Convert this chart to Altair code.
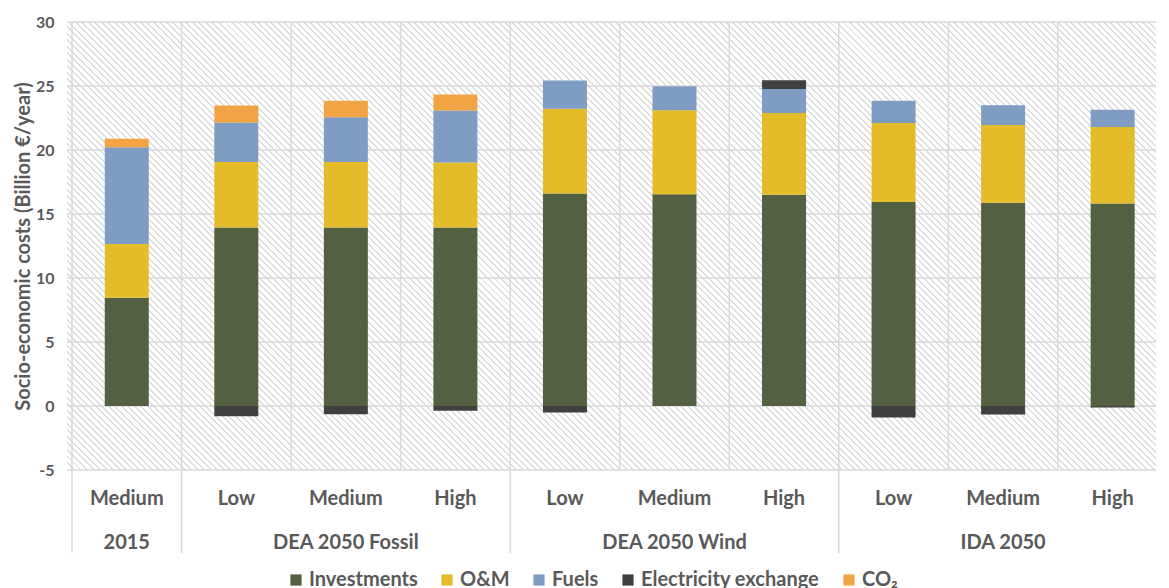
import altair as alt
import pandas as pd

# ---- data ----
categories = ["Medium", "Low", "Medium", "High", "Low", "Medium", "High", "Low", "Medium", "High"]
groups = ["2015", "DEA 2050 Fossil", "DEA 2050 Fossil", "DEA 2050 Fossil",
          "DEA 2050 Wind", "DEA 2050 Wind", "DEA 2050 Wind",
          "IDA 2050", "IDA 2050", "IDA 2050"]
series = ["Investments", "O&M", "Fuels", "Electricity exchange", "CO₂"]
colors = ["#536142", "#e4bb29", "#7f9dc2", "#404040", "#f2a444"]
y_ticks = [-5, 0, 5, 10, 15, 20, 25, 30]

investments = [8.46, 13.94, 13.94, 13.94, 16.60, 16.55, 16.50, 15.93, 15.87, 15.82]
om = [4.20, 5.12, 5.12, 5.09, 6.63, 6.55, 6.40, 6.18, 6.09, 5.98]
fuels = [7.55, 3.08, 3.50, 4.05, 2.20, 1.88, 1.87, 1.73, 1.53, 1.35]
elec_exchange = [0.0, -0.80, -0.65, -0.37, -0.50, 0.0, 0.68, -0.90, -0.67, -0.12]
co2 = [0.66, 1.33, 1.28, 1.25, 0.0, 0.0, 0.0, 0.0, 0.0, 0.0]

values = {"Investments": investments, "O&M": om, "Fuels": fuels,
          "Electricity exchange": elec_exchange, "CO₂": co2}

rows = []
for i in range(len(categories)):
    for k, s in enumerate(series):
        v = values[s][i]
        if v != 0:
            rows.append({"pos": i + 0.5, "series": s, "order": k, "value": v})
bars_df = pd.DataFrame(rows)

cat_df = pd.DataFrame({
    "pos": [i + 0.5 for i in range(len(categories))],
    "left": list(range(len(categories))),
    "label": categories,
    "group": groups,
})
tick_df = pd.DataFrame({"value": y_ticks})

W, H = 1089, 448
GRID = "#d9d9d9"
TXT = "#595959"
FONT = "Lato"

# ---- diagonal hatch for the plot background (a linear gradient with hard stops) ----
r = H / W
k = (1 + r) / (1 + r * r)
span_px = (W + H) / 2 ** 0.5          # pixel length covered by gradient t in [0, 1]
period = 4.6 / span_px
line_w = 1.4 / span_px
stops = []
t = 0.0
while t + line_w < 1:
    stops += [{"offset": t, "color": "#ffffff"}, {"offset": t, "color": "#dcdcdc"},
              {"offset": t + line_w, "color": "#dcdcdc"}, {"offset": t + line_w, "color": "#ffffff"}]
    t += period
hatch = {"gradient": "linear", "x1": 0, "y1": 1, "x2": k, "y2": 1 - k * r, "stops": stops}

xscale = alt.Scale(domain=[0, 9.85], nice=False, zero=False)
yscale = alt.Scale(domain=[-5, 30], nice=False, zero=False)
yaxis = alt.Axis(values=y_ticks, grid=False, ticks=False, domain=False, labelPadding=13,
                 labelExpr="'' + datum.value",
                 labelFontSize=16, labelFontWeight="bold", labelColor=TXT, labelFont=FONT,
                 title="Socio-economic costs (Billion €/year)", titleFontSize=20,
                 titleFontWeight="bold", titleColor=TXT, titleFont=FONT, titlePadding=2)

background = alt.Chart(pd.DataFrame({"bg": [0]})).mark_rect(fill=hatch, stroke=None).encode(
    x=alt.value(0), x2=alt.value(W), y=alt.value(0), y2=alt.value(H),
)

h_grid = alt.Chart(tick_df).mark_rule(color=GRID, strokeWidth=1.5).encode(
    y=alt.Y("value:Q", scale=yscale, axis=yaxis),
    x=alt.value(0), x2=alt.value(W),
)

v_grid = alt.Chart(cat_df).mark_rule(color=GRID, strokeWidth=1.5).encode(
    x=alt.X("left:Q", scale=xscale, axis=None),
    y=alt.value(0), y2=alt.value(H),
)

bars = alt.Chart(bars_df).mark_bar(size=44).encode(
    x=alt.X("pos:Q", scale=xscale, axis=None),
    y=alt.Y("value:Q", stack="zero", scale=yscale, axis=yaxis),
    color=alt.Color("series:N", sort=series,
                    scale=alt.Scale(domain=series, range=colors),
                    legend=alt.Legend(title=None, orient="none", direction="horizontal",
                                      legendX=219, legendY=548, symbolType="square",
                                      symbolSize=125, symbolStrokeWidth=0, labelFontSize=20,
                                      labelFont=FONT, labelFontWeight="bold", labelColor=TXT,
                                      labelLimit=0, columnPadding=19, labelOffset=3)),
    order=alt.Order("order:Q"),
)

cat_labels = alt.Chart(cat_df).mark_text(
    fontSize=20, font=FONT, fontWeight="bold", color=TXT, baseline="middle"
).encode(
    x=alt.X("pos:Q", scale=xscale, axis=None),
    y=alt.value(477),
    text="label:N",
)

group_labels = alt.Chart(cat_df).transform_aggregate(
    center="mean(pos)", groupby=["group"]
).mark_text(
    fontSize=20, font=FONT, fontWeight="bold", color=TXT, baseline="middle"
).encode(
    x=alt.X("center:Q", scale=xscale, axis=None),
    y=alt.value(521),
    text="group:N",
)

separators = alt.Chart(cat_df).transform_aggregate(
    start="min(left)", groupby=["group"]
).mark_rule(color=GRID, strokeWidth=1.5).encode(
    x=alt.X("start:Q", scale=xscale, axis=None),
    y=alt.value(H),
    y2=alt.value(531),
)

chart = alt.layer(background, h_grid, v_grid, bars, separators, cat_labels, group_labels).properties(
    width=W, height=H,
    padding={"left": 5, "top": 6, "right": 0, "bottom": 0},
).configure_view(stroke=None)

chart.save("out.html", embed_options={"renderer": "svg", "actions": False})
